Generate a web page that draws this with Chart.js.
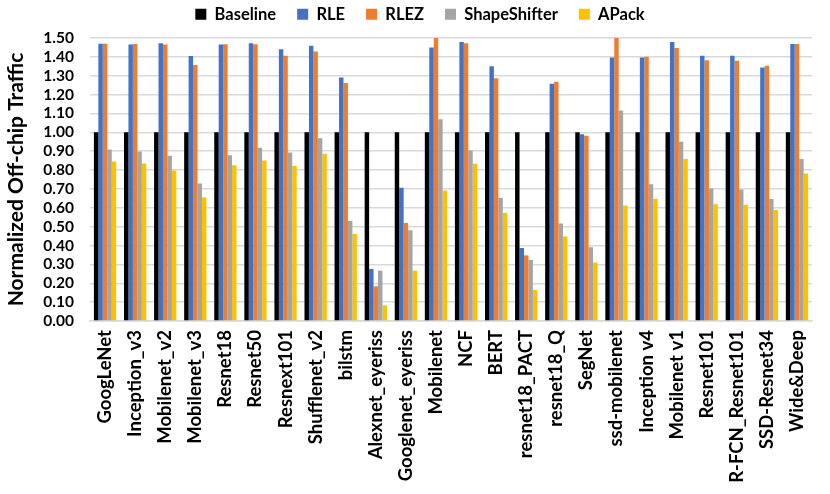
<!DOCTYPE html>
<html>
<head>
<meta charset="utf-8">
<script src="https://cdn.jsdelivr.net/npm/chart.js@4/dist/chart.umd.min.js"></script>
<style>
  html, body { margin: 0; padding: 0; background: #fff; }
  #wrap { width: 830px; height: 494px; }
</style>
</head>
<body>
<div id="wrap"><canvas id="traffic"></canvas></div>
<script>
const networks = ['GoogLeNet', 'Inception_v3', 'Mobilenet_v2', 'Mobilenet_v3', 'Resnet18', 'Resnet50',
  'Resnext101', 'Shufflenet_v2', 'bilstm', 'Alexnet_eyeriss', 'Googlenet_eyeriss', 'Mobilenet', 'NCF',
  'BERT', 'resnet18_PACT', 'resnet18_Q', 'SegNet', 'ssd-mobilenet', 'Inception v4', 'Mobilenet v1',
  'Resnet101', 'R-FCN_Resnet101', 'SSD-Resnet34', 'Wide&Deep'];

const baseline = [1, 1, 1, 1, 1, 1, 1, 1, 1, 1, 1, 1, 1, 1, 1, 1, 1, 1, 1, 1, 1, 1, 1, 1];
const rle = [1.47, 1.465, 1.472, 1.405, 1.465, 1.472, 1.44, 1.459, 1.291, 0.276, 0.706, 1.449, 1.479,
  1.35, 0.387, 1.258, 0.99, 1.396, 1.396, 1.479, 1.406, 1.406, 1.343, 1.468];
const rlez = [1.47, 1.468, 1.465, 1.357, 1.467, 1.467, 1.406, 1.428, 1.261, 0.184, 0.52, 1.5, 1.472,
  1.286, 0.348, 1.268, 0.982, 1.5, 1.401, 1.447, 1.382, 1.38, 1.353, 1.468];
const shapeShifter = [0.909, 0.899, 0.876, 0.729, 0.879, 0.918, 0.893, 0.969, 0.531, 0.267, 0.481, 1.07,
  0.904, 0.653, 0.324, 0.517, 0.391, 1.116, 0.725, 0.95, 0.702, 0.697, 0.647, 0.858];
const apack = [0.846, 0.835, 0.798, 0.655, 0.826, 0.851, 0.821, 0.886, 0.462, 0.083, 0.267, 0.692, 0.833,
  0.573, 0.165, 0.448, 0.31, 0.612, 0.647, 0.858, 0.619, 0.616, 0.589, 0.782];

const seriesNames = ['Baseline', 'RLE', 'RLEZ', 'ShapeShifter', 'APack'];
const seriesColors = ['#000000', '#4472C4', '#ED7D31', '#A5A5A5', '#FFC000'];
const seriesValues = [baseline, rle, rlez, shapeShifter, apack];

const font = 'Lato, "Open Sans", sans-serif';

// fix the legend block height so the plot starts where the reference does,
// and nudge it right so it sits over the plot like the original
const legendHeight = {
  id: 'legendHeight',
  beforeLayout(chart) {
    const lg = chart.legend;
    if (lg && !lg._patched) {
      const fit = lg.fit;
      lg.fit = function () { fit.call(this); this.height = 53; };
      lg._patched = true;
    }
  },
  afterLayout(chart) {
    const lg = chart.legend;
    if (lg) { lg.left += 12; lg.right += 12; }
  }
};

new Chart(document.getElementById('traffic'), {
  type: 'bar',
  data: {
    labels: networks,
    datasets: seriesNames.map((name, i) => ({
      label: name,
      data: seriesValues[i],
      backgroundColor: seriesColors[i],
      borderWidth: 0,
      barPercentage: 1.0,
      categoryPercentage: 0.74
    }))
  },
  plugins: [legendHeight],
  options: {
    responsive: true,
    maintainAspectRatio: false,
    animation: false,
    layout: { padding: { left: 4, right: 18, top: -15, bottom: 0 } },
    plugins: {
      tooltip: { enabled: false },
      legend: {
        position: 'top',
        labels: {
          boxWidth: 11,
          boxHeight: 11,
          padding: 21,
          color: '#000',
          font: { family: font, size: 16.5, weight: 'bold' }
        }
      }
    },
    scales: {
      x: {
        grid: { display: false, drawTicks: false },
        border: { color: '#d9d9d9', width: 1.5 },
        ticks: {
          color: '#000',
          autoSkip: false,
          minRotation: 90,
          maxRotation: 90,
          padding: 9,
          font: { family: font, size: 18.5, weight: 'bold' }
        },
        afterFit: axis => { axis.height = 173; }
      },
      y: {
        min: 0,
        max: 1.5,
        grid: { color: '#d9d9d9', lineWidth: 1.5, drawTicks: false },
        border: { display: false },
        ticks: {
          stepSize: 0.1,
          autoSkip: false,
          color: '#000',
          padding: 16,
          font: { family: font, size: 15.5, weight: 'bold' },
          callback: v => v.toFixed(2)
        },
        title: {
          display: true,
          text: 'Normalized Off-chip Traffic',
          color: '#000',
          padding: { top: 0, bottom: 2 },
          font: { family: font, size: 21, weight: 'bold' }
        },
        afterFit: axis => { axis.width = 86; }
      }
    }
  }
});
</script>
</body>
</html>
